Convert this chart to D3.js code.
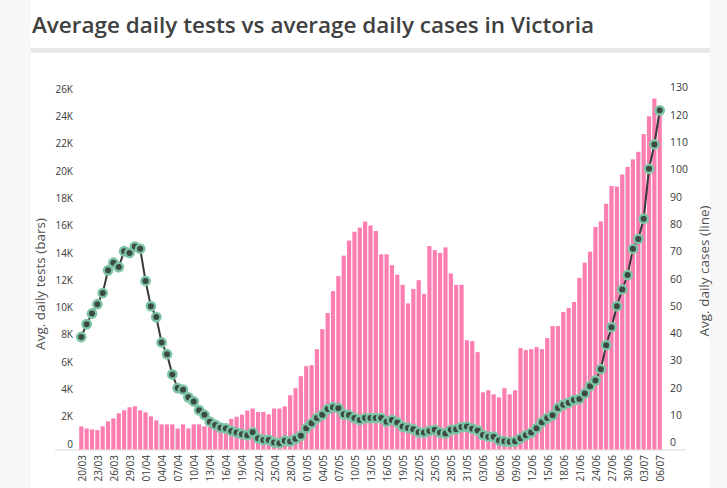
<!DOCTYPE html>
<html>
<head>
<meta charset="utf-8">
<script src="https://cdn.jsdelivr.net/npm/d3@7"></script>
<style>
  html, body { margin: 0; padding: 0; background: #f7f7f7; }
  svg { display: block; }
  text { font-family: "Open Sans", "DejaVu Sans", sans-serif; }
</style>
</head>
<body>
<svg id="chart" width="727" height="488"></svg>
<script>
const dates = [
  "20/03","21/03","22/03","23/03","24/03","25/03","26/03","27/03","28/03","29/03","30/03","31/03",
  "01/04","02/04","03/04","04/04","05/04","06/04","07/04","08/04","09/04","10/04","11/04","12/04","13/04","14/04","15/04",
  "16/04","17/04","18/04","19/04","20/04","21/04","22/04","23/04","24/04","25/04","26/04","27/04","28/04","29/04","30/04",
  "01/05","02/05","03/05","04/05","05/05","06/05","07/05","08/05","09/05","10/05","11/05","12/05","13/05","14/05","15/05",
  "16/05","17/05","18/05","19/05","20/05","21/05","22/05","23/05","24/05","25/05","26/05","27/05","28/05","29/05","30/05","31/05",
  "01/06","02/06","03/06","04/06","05/06","06/06","07/06","08/06","09/06","10/06","11/06","12/06","13/06","14/06","15/06",
  "16/06","17/06","18/06","19/06","20/06","21/06","22/06","23/06","24/06","25/06","26/06","27/06","28/06","29/06","30/06",
  "01/07","02/07","03/07","04/07","05/07","06/07"
];

// Average daily tests (bars)
const tests = [
  1690,1540,1470,1420,1690,2060,2280,2650,2870,3090,3160,2870,
  2720,2430,2130,1840,1840,1840,1540,1840,1540,1840,1840,1700,1650,1650,1700,
  1900,2250,2400,2550,2850,3000,2750,2750,2570,3000,3000,3160,3970,4490,5370,
  6100,6180,7350,8820,10000,11600,12700,14200,15300,15950,16250,16700,16400,16000,14300,
  14300,13500,12800,12060,10700,11760,12400,11400,14900,14600,14400,14800,12900,12060,12060,8000,
  7940,7130,4190,4340,4040,3820,4490,4040,4340,7430,7280,7350,7500,7350,8160,
  9040,9040,10070,10370,10800,12570,13680,14490,16300,16700,18000,19300,19260,20150,20700,
  21250,21800,23100,24400,25700,24600
];

// Average daily cases (line)
const cases = [
  41.2,45.9,49.8,53.2,57.3,65.6,68.4,66.8,72.6,72.0,74.3,73.5,
  61.7,52.5,48.5,39.2,34.9,27.5,22.5,21.9,19.1,17.6,14.4,12.7,10.2,9.0,8.0,
  7.7,6.8,6.2,5.6,5.2,6.3,4.1,3.5,3.5,2.6,2.3,3.2,2.9,3.9,5.0,
  7.8,9.6,11.5,12.7,14.8,15.5,15.1,12.9,12.6,11.5,10.8,11.5,11.5,11.5,11.5,
  10.2,10.8,9.9,8.4,7.9,7.4,6.3,6.2,6.8,7.2,6.2,5.9,7.2,7.4,8.2,8.4,
  7.6,7.0,5.3,4.7,4.7,3.3,3.0,2.8,3.0,4.1,5.2,6.2,7.8,10.0,11.5,
  12.5,15.2,16.4,17.1,18.1,18.5,20.5,23.2,25.3,29.4,38.2,44.8,52.5,58.6,63.9,
  73.5,77.1,84.5,102.8,111.7,124.2
];

const xTickLabels = ["20/03","23/03","26/03","29/03","01/04","04/04","07/04","10/04","13/04","16/04","19/04","22/04","25/04","28/04","01/05","04/05","07/05","10/05","13/05","16/05","19/05","22/05","25/05","28/05","31/05","03/06","06/06","09/06","12/06","15/06","18/06","21/06","24/06","27/06","30/06","03/07","06/07"];
const testTicks = [0,2000,4000,6000,8000,10000,12000,14000,16000,18000,20000,22000,24000,26000];
const testTickLabels = ["0","2K","4K","6K","8K","10K","12K","14K","16K","18K","20K","22K","24K","26K"];
const caseTicks = [0,10,20,30,40,50,60,70,80,90,100,110,120,130];

const title = "Average daily tests vs average daily cases in Victoria";
const leftTitle = "Avg. daily tests (bars)";
const rightTitle = "Avg. daily cases (line)";

const svg = d3.select("#chart");

// panel
svg.append("rect").attr("x", 31).attr("y", 0).attr("width", 679).attr("height", 488).attr("fill", "#ffffff");

svg.append("text")
  .attr("x", 32).attr("y", 33)
  .attr("font-size", 22).attr("font-weight", 600)
  .attr("fill", "#404040")
  .attr("textLength", 562).attr("lengthAdjust", "spacingAndGlyphs")
  .text(title);

svg.append("rect").attr("x", 31).attr("y", 48).attr("width", 679).attr("height", 5).attr("fill", "#e8e8e8");

const x = d3.scaleBand().domain(dates).range([78.6, 662.4]).paddingInner(0.22).paddingOuter(0.11);
const yT = d3.scaleLinear().domain([0, 26000]).range([449.5, 94.5]);
const yC = d3.scaleLinear().domain([0, 130]).range([449.5, 94.5]);

// baseline
svg.append("line").attr("x1", 55).attr("x2", 686).attr("y1", 450).attr("y2", 450)
  .attr("stroke", "#d9d9d9").attr("stroke-width", 1);

// bars
svg.append("g").selectAll("rect").data(tests).join("rect")
  .attr("x", (d, i) => x(dates[i]))
  .attr("width", x.bandwidth())
  .attr("y", d => yT(d))
  .attr("height", d => yT(0) - yT(d))
  .attr("fill", "#fd7db1");

// left axis
const gl = svg.append("g").attr("transform", "translate(73,0)")
  .call(d3.axisLeft(yT).tickValues(testTicks).tickSize(0).tickPadding(0)
    .tickFormat((d, i) => testTickLabels[i]));
gl.select(".domain").remove();
gl.selectAll("text").attr("font-size", 10).attr("fill", "#3a3a3a").attr("y", -5.5)
  .attr("font-family", "'Open Sans', sans-serif");

// right axis
const gr = svg.append("g").attr("transform", "translate(670,0)")
  .call(d3.axisRight(yC).tickValues(caseTicks).tickSize(0).tickPadding(0));
gr.select(".domain").remove();
gr.selectAll("text").attr("font-size", 10.5).attr("fill", "#3a3a3a").attr("y", -7)
  .attr("font-family", "'Open Sans', sans-serif");

// x axis
const gx = svg.append("g").attr("transform", "translate(0,452)")
  .call(d3.axisBottom(x).tickValues(xTickLabels).tickSize(0).tickPadding(0));
gx.select(".domain").remove();
gx.selectAll("text")
  .attr("transform", "rotate(-90)")
  .attr("text-anchor", "end")
  .attr("x", -3).attr("y", 1).attr("dy", "0.35em")
  .attr("font-size", 10).attr("fill", "#3a3a3a")
  .attr("font-family", "'Open Sans', sans-serif");

// axis titles
svg.append("text")
  .attr("transform", "translate(45,284) rotate(-90)")
  .attr("text-anchor", "middle")
  .attr("font-size", 13.5).attr("fill", "#505050")
  .text(leftTitle);
svg.append("text")
  .attr("transform", "translate(709,271) rotate(-90)")
  .attr("text-anchor", "middle")
  .attr("font-size", 13.5).attr("fill", "#505050")
  .text(rightTitle);

// line
const line = d3.line()
  .x((d, i) => x(dates[i]) + x.bandwidth() / 2)
  .y(d => yC(d));
svg.append("path").datum(cases)
  .attr("d", line)
  .attr("fill", "none")
  .attr("stroke", "#383838")
  .attr("stroke-width", 2);

// dots
svg.append("g").selectAll("circle").data(cases).join("circle")
  .attr("cx", (d, i) => x(dates[i]) + x.bandwidth() / 2)
  .attr("cy", d => yC(d))
  .attr("r", 4.2)
  .attr("fill", "#3c4a44")
  .attr("stroke", "#7dc4a5")
  .attr("stroke-width", 2.4);
</script>
</body>
</html>
